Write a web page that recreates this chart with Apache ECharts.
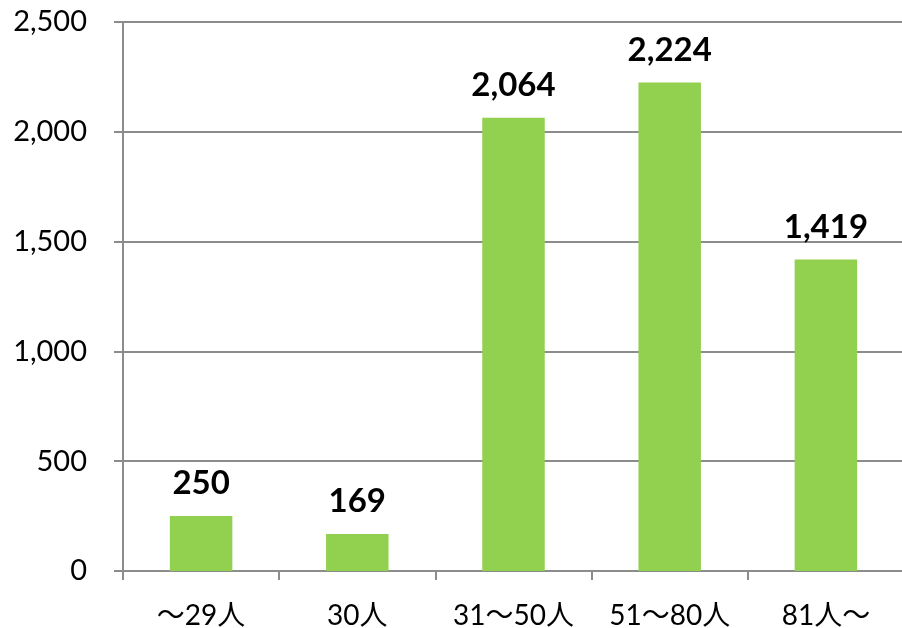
<!DOCTYPE html>
<html>
<head>
<meta charset="utf-8">
<style>
  html, body { margin: 0; padding: 0; background: #ffffff; }
  #chart { width: 902px; height: 628px; }
</style>
<script src="https://cdn.jsdelivr.net/npm/echarts@6/dist/echarts.min.js"></script>
</head>
<body>
<div id="chart"></div>
<script>
// Establishments by number of employees
const categories = ['～29人', '30人', '31～50人', '51～80人', '81人～'];
const values = [250, 169, 2064, 2224, 1419];
const yTicks = [0, 500, 1000, 1500, 2000, 2500];

const FONT = "Lato, 'Noto Sans CJK JP', sans-serif";
const fmt = v => String(v).replace(/\B(?=(\d{3})+(?!\d))/g, ',');

const chart = echarts.init(document.getElementById('chart'), null, { renderer: 'canvas' });
chart.setOption({
  animation: false,
  backgroundColor: '#ffffff',
  grid: { left: 123, top: 22, width: 781, bottom: 57, containLabel: false, outerBoundsMode: 'none' },
  xAxis: {
    type: 'category',
    data: categories,
    axisLine: { lineStyle: { color: '#8c8c8c', width: 2 } },
    axisTick: { show: true, interval: 0, length: 9, alignWithLabel: false, lineStyle: { color: '#8c8c8c', width: 2 } },
    axisLabel: { interval: 0, hideOverlap: false, color: '#000000', fontSize: 28, fontFamily: FONT, margin: 31 },
    splitLine: { show: false }
  },
  yAxis: {
    type: 'value',
    min: yTicks[0],
    max: yTicks[yTicks.length - 1],
    interval: yTicks[1] - yTicks[0],
    axisLine: { show: true, lineStyle: { color: '#8c8c8c', width: 2 } },
    axisTick: { show: true, length: 9, lineStyle: { color: '#8c8c8c', width: 2 } },
    axisLabel: { color: '#000000', fontSize: 29, fontFamily: FONT, margin: 36, formatter: v => fmt(v) },
    splitLine: { show: true, lineStyle: { color: '#8c8c8c', width: 2 } }
  },
  series: [{
    type: 'bar',
    data: values,
    barWidth: '40%',
    itemStyle: { color: '#92D050' },
    label: {
      show: true,
      position: 'top',
      distance: 16,
      color: '#000000',
      fontSize: 33,
      fontWeight: 'bold',
      fontFamily: FONT,
      formatter: p => fmt(p.value)
    }
  }]
});
</script>
</body>
</html>
